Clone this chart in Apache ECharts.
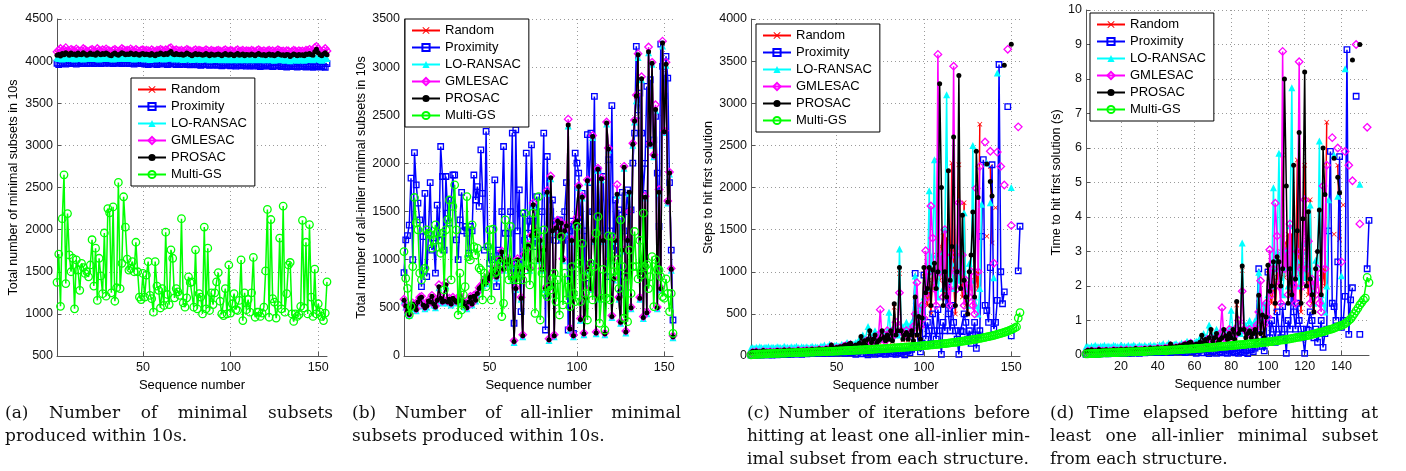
<!DOCTYPE html>
<html><head><meta charset="utf-8">
<script src="https://cdn.jsdelivr.net/npm/echarts@6/dist/echarts.min.js"></script>
<style>html,body{margin:0;padding:0;background:#fff}#c{width:1406px;height:471px}</style>
</head><body><div id="c"></div>
<script>
// ---------- Panel (a): total number of minimal subsets in 10s ----------
const aRandom = [
4095,4100,4090,4105,4095,4110,4100,4090,4105,4095,
4100,4090,4105,4095,4100,4110,4095,4090,4100,4105,
4095,4100,4090,4105,4100,4095,4110,4100,4090,4095,
4105,4100,4095,4090,4100,4105,4095,4100,4110,4095,
4100,4090,4105,4095,4100,4095,4105,4090,4100,4095,
4090,4100,4095,4085,4100,4095,4090,4100,4095,4105,
4100,4090,4095,4100,4110,4120,4100,4090,4095,4100,
4090,4095,4085,4095,4100,4090,4095,4085,4090,4100,
4090,4095,4085,4090,4095,4100,4090,4080,4095,4090,
4085,4090,4095,4085,4080,4090,4095,4085,4080,4090,
4085,4080,4090,4095,4080,4085,4090,4080,4085,4090,
4080,4090,4085,4080,4085,4095,4085,4080,4090,4080,
4085,4090,4080,4085,4075,4085,4095,4090,4080,4085,
4075,4090,4085,4110,4080,4090,4085,4075,4090,4080,
4085,4075,4090,4085,4100,4085,4080,4120,4140,4110,
4085,4075,4090,4110,4085];
const aProximity = [
3975,3960,3980,3970,3985,3965,3975,3980,3970,3985,
3975,3965,3980,3990,3970,3975,3985,3970,3980,3975,
3985,3970,3975,3990,3980,3970,3985,3975,3980,3990,
3975,3985,3970,3980,3975,3990,3980,3970,3985,3975,
3980,3970,3985,3975,3965,3980,3975,3985,3970,3980,
3965,3975,3960,3980,3970,3965,3975,3960,3970,3980,
3965,3975,3970,3960,3975,3985,3965,3970,3960,3975,
3960,3970,3965,3975,3960,3970,3955,3965,3975,3960,
3955,3965,3950,3960,3970,3955,3965,3950,3960,3955,
3965,3950,3960,3955,3945,3960,3950,3965,3955,3945,
3960,3950,3940,3955,3960,3945,3950,3960,3940,3955,
3945,3955,3940,3950,3960,3945,3935,3950,3945,3955,
3940,3950,3945,3935,3950,3940,3955,3945,3935,3950,
3940,3930,3945,3950,3935,3945,3940,3930,3945,3935,
3940,3950,3930,3945,3935,3940,3925,3945,3935,3940,
3930,3945,3935,3925,3970];
const aLoRansac = [
4040,4030,4035,4025,4040,4030,4035,4045,4030,4035,
4025,4035,4040,4030,4035,4025,4040,4035,4030,4040,
4035,4030,4045,4035,4025,4035,4040,4030,4035,4045,
4030,4035,4025,4040,4035,4030,4040,4035,4045,4030,
4035,4040,4030,4035,4025,4035,4030,4040,4035,4030,
4025,4035,4030,4020,4035,4030,4025,4035,4030,4040,
4035,4025,4030,4035,4045,4050,4035,4025,4030,4035,
4025,4030,4020,4030,4035,4025,4030,4020,4025,4035,
4025,4030,4020,4025,4030,4035,4025,4015,4030,4025,
4020,4025,4030,4020,4015,4025,4030,4020,4015,4025,
4020,4015,4025,4030,4015,4020,4025,4015,4020,4025,
4015,4025,4020,4015,4020,4030,4020,4015,4025,4015,
4020,4025,4015,4020,4010,4020,4030,4025,4015,4020,
4010,4025,4020,4005,4015,4025,4020,4010,4025,4015,
4020,4010,4025,4020,4030,4020,4015,4035,4045,4030,
4020,4010,4025,4045,4030];
const aGmlesac = [
4110,4130,4150,4120,4135,4160,4125,4115,4140,4130,
4120,4145,4130,4115,4125,4150,4135,4120,4110,4130,
4140,4125,4115,4150,4130,4120,4135,4125,4145,4130,
4120,4110,4130,4140,4125,4115,4130,4150,4135,4120,
4130,4125,4145,4130,4120,4140,4125,4115,4130,4135,
4120,4130,4125,4115,4135,4120,4110,4130,4125,4140,
4130,4120,4135,4125,4150,4160,4130,4120,4135,4125,
4120,4130,4115,4125,4140,4130,4120,4110,4125,4135,
4120,4130,4125,4115,4120,4135,4125,4110,4130,4120,
4115,4125,4130,4120,4110,4125,4135,4120,4115,4130,
4120,4110,4125,4135,4115,4120,4130,4110,4125,4120,
4115,4130,4120,4110,4125,4135,4120,4115,4125,4110,
4120,4130,4115,4125,4110,4120,4135,4125,4115,4120,
4110,4125,4120,4100,4115,4130,4120,4110,4125,4115,
4120,4110,4130,4125,4140,4120,4115,4160,4175,4150,
4120,4110,4130,4150,4120];
const aProsac = [
4070,4080,4060,4090,4075,4100,4085,4070,4095,4080,
4085,4070,4095,4080,4075,4100,4085,4070,4080,4095,
4080,4085,4070,4100,4085,4075,4090,4080,4095,4085,
4070,4065,4085,4095,4080,4070,4085,4100,4090,4075,
4085,4080,4095,4085,4075,4090,4080,4070,4085,4090,
4075,4085,4080,4070,4090,4075,4065,4085,4080,4095,
4085,4075,4090,4080,4100,4115,4085,4075,4090,4080,
4075,4085,4070,4080,4095,4085,4075,4065,4080,4090,
4075,4085,4080,4070,4075,4090,4080,4065,4085,4075,
4070,4080,4085,4075,4065,4080,4090,4075,4070,4085,
4075,4065,4080,4090,4070,4075,4085,4065,4080,4075,
4070,4085,4075,4065,4080,4090,4075,4070,4080,4065,
4075,4085,4070,4080,4065,4075,4090,4080,4070,4075,
4065,4080,4075,4055,4070,4085,4075,4065,4080,4070,
4075,4065,4085,4080,4090,4075,4070,4110,4140,4100,
4075,4065,4085,4100,4075];
const aMultiGS = [
1375,1710,1090,2130,2650,1360,2190,1700,1500,1660,
1060,1640,1520,1280,1600,1550,1480,1500,1440,1580,
1880,1330,1780,1160,1660,1450,1240,1960,1210,2250,
2200,1250,2270,1150,1310,2560,1300,1600,2390,2030,
1650,1520,1540,1620,1500,1850,1500,1200,1170,1480,
1200,1460,1620,1220,1180,1020,1620,1330,1280,1070,
1300,1100,1970,1230,1110,1760,1660,1190,1300,1260,
1220,2130,1130,1080,1190,1440,1370,1380,1080,1760,
1060,1240,1200,1000,2030,1060,1780,1040,1250,1110,
1250,1380,1490,1150,1000,980,1300,1000,1580,1010,
1120,1240,1050,1040,1160,1640,920,1250,1050,1170,
1020,1250,1670,960,1020,1020,970,1010,1080,1510,
2240,960,2120,1180,1140,950,1100,1900,1060,2280,
1020,1240,1580,1610,1000,910,1000,970,990,1090,
2110,1070,1850,1000,2060,1200,970,1530,1000,1120,
1020,970,920,1010,1380];

// ---------- Panel (b): all-inlier minimal subsets in 10s ----------
const bRandom = [
575,515,465,425,495,535,515,475,555,595,
605,525,495,515,565,555,615,535,505,575,
715,595,555,565,735,555,585,535,595,575,
555,565,615,575,555,515,495,555,605,535,
615,575,645,695,715,735,775,755,815,795,
845,875,895,815,855,995,1075,895,975,955,
995,945,795,145,695,995,895,595,205,1045,
1095,1145,895,1245,1565,1295,1245,995,1195,895,
1095,695,1695,165,1845,1295,205,1325,1395,1245,
1375,995,1295,1345,2395,275,1195,205,1375,1395,
1755,375,1645,225,595,1815,895,695,2275,1195,
235,1935,595,1835,1195,225,2415,2145,995,405,
795,1195,1675,595,345,1095,1955,245,1195,1695,
495,2195,2435,2695,3125,595,2875,395,1645,445,
3155,2195,3035,2075,2555,495,1695,695,3245,2325,
3025,1595,1895,895,195];
const bProximity = [
866,1206,1250,1360,1847,1000,2113,1777,1587,1413,
720,1240,1690,825,1275,1800,1100,1170,860,1566,
1200,2176,1864,1100,1864,1483,1380,1620,1880,1880,
1206,1000,1414,1700,1300,1345,1275,1067,1345,1300,
1880,1620,1760,1553,2141,1690,1100,2332,1136,963,
1032,1000,1830,720,1100,929,1500,2176,1275,1000,
1275,1500,2315,340,2350,1300,1726,460,1483,1200,
2107,1275,1400,2193,1400,1136,1656,1300,1067,1500,
2315,270,2072,1206,1500,1620,1300,1200,1400,1413,
1300,1200,1500,1800,270,1300,1400,236,2107,2003,
1900,1400,1690,1300,755,2300,1800,2315,1500,2696,
963,1934,1500,1300,1864,1300,825,2038,1300,2600,
1100,1620,1400,1518,651,1700,1300,1500,1726,1200,
1518,2003,2315,3216,2500,2730,2315,1690,2000,2800,
2200,2869,2500,2245,2488,1900,1345,3240,3008,2700,
3112,2886,1800,1100,374];
const bLoRansac = [
570,510,460,420,490,530,510,470,550,590,
600,520,490,510,560,550,610,530,500,570,
710,590,550,560,730,550,580,530,590,570,
550,560,610,570,550,510,490,550,600,530,
610,570,640,690,710,730,770,750,810,790,
840,870,890,810,850,990,1070,890,970,950,
990,940,790,140,690,990,890,590,200,1040,
1090,1140,890,1240,1560,1290,1240,990,1190,890,
1090,690,1690,160,1840,1290,200,1320,1390,1240,
1370,990,1290,1340,2390,270,1190,200,1370,1390,
1750,370,1640,220,590,1810,890,690,2270,1190,
230,1930,590,1830,1190,220,2410,2140,990,400,
790,1190,1670,590,340,1090,1950,240,1190,1690,
490,2190,2430,2650,3100,590,2870,390,1640,440,
3150,2190,3030,2070,2550,490,1690,690,3220,2320,
3020,1590,1890,890,190];
const bGmlesac = [
590,530,480,440,510,550,530,490,570,610,
620,540,510,530,580,570,630,550,520,590,
740,610,570,580,760,570,600,550,610,590,
570,580,630,590,570,530,510,570,620,550,
630,590,660,710,730,750,790,770,830,810,
860,890,910,830,870,1010,1090,910,990,970,
1010,960,810,160,710,1010,910,610,220,1060,
1110,1160,910,1260,1590,1310,1260,1010,1210,910,
1110,710,1720,180,1870,1310,220,1340,1410,1260,
1390,1010,1310,1360,2460,290,1210,220,1390,1440,
1770,390,1660,240,610,1830,910,710,2290,1210,
250,1950,610,1850,1210,240,2430,2160,1010,420,
810,1210,1780,610,360,1110,1970,260,1210,1500,
510,2210,2450,2710,3140,610,2900,410,1660,460,
3210,2210,3050,2090,2610,510,1730,710,3270,2340,
3050,1610,1910,910,210];
const bProsac = [
580,520,470,430,500,540,520,480,560,600,
610,530,500,520,570,560,620,540,510,580,
720,600,560,570,740,560,590,540,600,580,
560,570,620,580,560,520,500,560,610,540,
620,580,650,700,720,740,780,760,820,800,
850,880,900,820,860,1000,1080,900,980,960,
1000,950,800,150,700,1000,900,600,210,1050,
1100,1150,900,1250,1570,1300,1250,1000,1200,900,
1100,700,1700,170,1850,1300,210,1330,1400,1250,
1380,1000,1300,1350,2400,280,1200,210,1380,1400,
1760,380,1650,230,600,1820,900,700,2280,1200,
240,1940,600,1840,1200,230,2420,2150,1000,410,
800,1200,1680,600,350,1100,1960,250,1200,1700,
500,2200,2440,2700,3130,600,2880,400,1650,450,
3160,2200,3040,2080,2560,500,1700,700,3250,2330,
3030,1600,1900,900,200];
const bMultiGS = [
1085,807,703,426,513,929,1646,1386,1310,860,
790,877,911,1310,1275,1258,1120,1206,1362,1282,
1130,1067,1275,686,1310,1414,1620,790,1553,1777,
1310,426,860,478,634,720,1656,1032,998,1362,
1136,1050,1120,915,894,582,860,720,1136,1310,
582,1317,860,877,998,963,409,547,1414,929,
790,1345,825,790,963,790,877,963,790,1483,
894,1136,738,929,1483,443,1275,1656,374,860,
1310,651,617,720,686,807,860,565,790,426,
1240,530,860,582,790,513,929,651,565,1345,
963,565,1170,825,651,374,860,963,582,929,
1275,1448,340,600,900,270,600,1247,582,1240,
877,825,1000,700,1414,929,392,825,357,1100,
650,929,1293,929,800,1200,842,1483,929,950,
700,825,1032,513,1000,900,894,825,617,600,
800,650,461,650,236];

// ---------- Panel (c): steps to hit first solution ----------
const cRandom = [
35,50,30,55,40,45,35,60,40,50,
45,55,40,50,45,60,50,55,45,65,
50,55,65,45,60,55,50,70,55,60,
65,55,70,60,65,75,60,70,65,80,
70,75,65,85,75,80,120,90,75,95,
85,100,95,115,125,105,130,140,115,105,
125,115,140,200,130,170,115,190,280,150,
190,240,145,170,190,280,210,170,240,190,
280,170,580,240,280,980,280,190,240,270,
190,240,280,170,650,240,440,190,420,980,
700,600,900,500,1000,800,1200,2320,900,1300,
1470,700,1400,600,800,2290,900,500,1200,2270,
1000,700,1820,600,500,800,900,700,600,1000,
800,2750,null,null,null,1420,null,2250,1340,null,
1760,null,null,null,null,null,null,null,null,null,
null,null,null,null,null];
const cProximity = [
10,15,8,20,12,18,10,25,14,20,
15,22,12,18,25,15,20,28,18,22,
25,18,30,20,28,22,35,25,30,20,
28,35,25,30,38,28,32,40,30,35,
40,30,38,45,35,42,30,48,40,35,
45,38,50,42,30,48,55,40,35,50,
20,45,55,30,25,60,40,15,50,35,
45,20,60,40,25,55,30,20,45,60,
35,25,50,20,40,60,30,45,15,55,
60,40,80,100,980,300,100,50,150,960,
200,400,300,150,500,300,200,550,300,20,
400,300,850,500,300,600,400,300,200,20,
300,290,500,400,200,300,150,250,400,90,
250,300,1420,2330,600,540,400,1050,2270,320,
400,660,3460,1000,620,760,null,2960,null,240,
null,null,null,1010,1540];
const cLoRansac = [
95,100,90,105,95,110,100,95,105,100,
110,95,105,100,95,110,105,100,95,115,
100,105,95,110,100,105,115,100,95,110,
105,100,110,95,105,115,100,110,105,100,
120,110,130,105,115,140,120,110,125,130,
115,120,140,125,130,160,135,150,140,145,
160,150,200,170,250,160,180,350,200,230,
200,300,220,250,280,200,260,230,300,520,
260,240,350,300,250,1270,280,350,300,400,
350,300,400,350,950,500,400,600,450,700,
900,800,1960,1000,1200,2330,900,700,1000,1200,
800,1500,3100,900,1200,1100,800,1000,1300,900,
1200,1000,1700,800,600,1100,900,2500,700,600,
500,800,1800,null,null,2290,null,1820,null,930,
null,3360,null,null,null,null,null,null,null,2000,
null,null,null,null,null];
const cGmlesac = [
30,45,25,50,35,40,30,55,35,45,
40,50,35,45,40,55,45,50,40,60,
45,50,60,40,55,50,45,65,50,55,
60,50,65,55,60,70,55,65,60,75,
65,70,60,80,70,75,110,85,70,90,
80,95,90,110,120,100,125,135,110,100,
80,100,120,90,150,110,180,130,200,150,
180,150,200,250,550,200,260,180,300,250,
220,300,250,400,350,750,300,280,250,300,
250,280,300,350,500,870,400,350,600,450,
1250,700,1000,1780,1400,800,600,3580,1000,1200,
700,1500,900,800,600,1200,3440,1000,800,1820,
1000,1200,600,900,800,700,1000,600,500,1990,
1000,2250,null,null,2540,null,null,2430,null,1100,
null,2420,null,2250,null,2030,null,3640,null,1550,
null,null,null,2720,null];
const cProsac = [
40,55,35,60,45,50,40,65,45,55,
50,60,45,55,50,65,55,60,50,70,
55,60,70,50,65,60,55,75,60,65,
70,60,75,65,70,80,65,75,70,85,
75,80,70,90,80,85,130,95,80,100,
90,110,100,120,130,110,140,150,120,110,
130,120,150,230,140,180,120,200,300,160,
200,250,150,180,200,300,220,180,250,200,
300,180,620,250,300,1050,300,200,250,280,
200,250,300,180,700,250,470,200,450,1050,
750,800,1050,600,1020,1100,800,1000,3230,2000,
600,1000,700,2200,900,1300,2600,600,1000,3330,
800,1670,900,700,500,1000,1200,1710,700,2430,
1880,null,null,null,null,2280,null,2070,1900,null,
null,null,null,null,null,3450,null,null,null,3700,
null,null,null,null,null];
const cMultiGS = [
14,16,18,19,21,22,23,24,25,26,
27,28,29,30,31,31,32,33,34,35,
35,36,37,38,38,39,40,41,41,42,
43,44,44,45,46,47,47,48,49,50,
50,51,52,53,54,54,55,56,57,58,
59,60,61,62,63,64,65,66,67,68,
69,70,71,72,73,74,75,77,78,79,
80,81,83,84,85,86,88,89,90,92,
93,94,96,97,98,100,101,103,104,106,
107,109,110,112,114,115,117,119,121,123,
125,127,129,131,133,135,137,139,141,144,
146,148,151,153,156,158,161,163,166,169,
172,175,178,181,184,187,190,194,197,201,
205,209,213,217,221,226,230,235,240,245,
250,256,262,268,274,281,288,296,304,313,
322,333,345,450,515];

// ---------- Panel (d): time to hit first solution (s) ----------
const dRandom = [
.09,.12,.08,.14,.10,.11,.09,.15,.10,.12,
.11,.14,.10,.12,.11,.15,.12,.14,.11,.16,
.12,.14,.16,.11,.15,.14,.12,.17,.14,.15,
.16,.14,.17,.15,.16,.19,.15,.17,.16,.20,
.17,.19,.16,.21,.19,.20,.30,.22,.19,.24,
.21,.25,.24,.29,.31,.26,.32,.35,.29,.26,
.31,.29,.35,.50,.32,.42,.29,.47,.70,.37,
.47,.60,.36,.42,.47,.70,.52,.42,.60,.47,
.70,.42,1.45,.60,.70,2.45,.70,.47,.60,.67,
.47,.60,.70,.42,1.62,.60,1.1,.47,1.05,2.45,
1.75,1.5,2.25,1.25,2.5,2.0,3.0,5.8,2.25,3.25,
3.5,1.75,3.5,1.5,2.0,5.65,2.25,1.25,3.0,5.5,
2.5,1.75,4.5,1.5,1.25,2.0,2.25,1.75,1.5,2.5,
2.0,6.75,null,null,null,3.5,null,5.5,3.35,null,
4.35,null,null,null,null,null,null,null,null,null,
null,null,null,null,null];
const dProximity = [
.02,.04,.02,.05,.03,.04,.02,.06,.03,.05,
.04,.05,.03,.04,.06,.04,.05,.07,.04,.05,
.06,.04,.07,.05,.07,.05,.09,.06,.07,.05,
.07,.09,.06,.07,.09,.07,.08,.10,.07,.09,
.10,.07,.09,.11,.09,.10,.07,.12,.10,.09,
.11,.09,.12,.10,.07,.12,.14,.10,.09,.12,
.05,.11,.14,.07,.06,.15,.10,.04,.12,.09,
.11,.05,.15,.10,.06,.14,.07,.05,.11,.15,
.09,.06,.12,.05,.10,.15,.07,.11,.04,.14,
.15,.10,.20,.25,2.5,.75,.25,.12,.37,2.4,
.5,1.0,.75,.37,1.25,.75,.5,1.4,.75,.05,
1.0,.75,2.1,1.25,.75,1.5,1.0,.75,.5,.05,
.75,.72,1.25,1.0,.5,.75,.37,.62,1.0,.22,
.62,.75,3.6,5.9,1.5,1.4,1.0,2.7,5.75,.8,
1.0,1.7,8.85,.6,1.6,1.95,null,7.5,null,.6,
null,null,null,2.5,3.9];
const dLoRansac = [
.24,.25,.22,.26,.24,.28,.25,.24,.26,.25,
.28,.24,.26,.25,.24,.28,.26,.25,.24,.29,
.25,.26,.24,.28,.25,.26,.29,.25,.24,.28,
.26,.25,.28,.24,.26,.29,.25,.28,.26,.25,
.30,.28,.33,.26,.29,.35,.30,.28,.31,.33,
.29,.30,.35,.31,.33,.40,.34,.37,.35,.36,
.40,.37,.50,.42,.62,.40,.45,.87,.50,.57,
.50,.75,.55,.62,.70,.50,.65,.57,.75,1.3,
.65,.60,.87,.75,.62,3.25,.70,.87,.75,1.0,
.87,.75,1.0,.87,2.4,1.25,1.0,1.5,1.1,1.75,
2.25,2.0,4.85,2.5,3.0,5.85,2.25,1.75,2.5,3.0,
2.0,3.75,7.75,2.25,3.0,2.75,2.0,2.5,3.25,2.25,
3.0,2.5,4.35,2.0,1.5,2.75,2.25,6.2,1.75,1.5,
1.25,2.0,4.5,null,null,5.8,null,4.6,null,2.3,
null,8.3,null,null,null,null,null,null,null,4.95,
null,null,null,null,null];
const dGmlesac = [
.07,.11,.06,.12,.09,.10,.07,.14,.09,.11,
.10,.12,.09,.11,.10,.14,.11,.12,.10,.15,
.11,.12,.15,.10,.14,.12,.11,.16,.12,.14,
.15,.12,.16,.14,.15,.17,.14,.16,.15,.19,
.16,.17,.15,.20,.17,.19,.27,.21,.17,.22,
.20,.24,.22,.27,.30,.25,.31,.34,.27,.25,
.20,.25,.30,.22,.37,.27,.45,.32,.50,.37,
.45,.37,.50,.62,1.37,.50,.65,.45,.74,.62,
.55,.74,.62,1.0,.87,1.85,.74,.70,.62,.74,
.62,.70,.74,.87,1.25,2.15,1.0,.87,1.5,1.1,
3.05,1.75,2.5,4.4,3.45,2.0,1.5,8.8,2.5,3.0,
1.75,3.8,2.2,2.0,1.5,3.0,8.5,2.5,2.0,4.5,
2.5,3.3,1.5,2.2,2.0,1.75,2.5,1.5,1.25,4.9,
2.5,5.5,null,null,6.3,null,null,6.0,null,2.7,
null,5.9,null,5.5,null,5.05,null,9.0,null,3.8,
null,null,null,6.6,null];
const dProsac = [
.10,.14,.09,.15,.11,.12,.10,.16,.11,.14,
.12,.15,.11,.14,.12,.16,.14,.15,.12,.17,
.14,.15,.17,.12,.16,.15,.14,.19,.15,.16,
.17,.15,.19,.16,.17,.20,.16,.19,.17,.21,
.19,.20,.17,.22,.20,.21,.32,.24,.20,.25,
.22,.27,.25,.30,.32,.27,.35,.37,.30,.27,
.32,.30,.37,.57,.35,.45,.30,.50,.74,.40,
.50,.62,.37,.45,.50,.74,.55,.45,.62,.50,
.74,.45,1.55,.62,.74,2.58,.74,.50,.62,.70,
.50,.62,.74,.45,1.73,.62,1.16,.50,1.10,2.60,
1.85,2.0,2.7,1.5,2.85,2.7,2.0,2.5,8.0,4.9,
1.5,2.5,1.75,5.5,2.2,3.6,6.45,1.5,3.95,8.2,
2.0,4.15,2.2,1.75,1.25,2.5,3.0,4.2,1.75,6.0,
4.65,null,null,null,null,5.7,null,5.15,4.7,null,
null,null,null,null,null,8.55,null,null,null,9.0,
null,null,null,null,null];
const dMultiGS = [
.03,.03,.04,.04,.04,.05,.05,.05,.05,.06,
.06,.06,.06,.07,.07,.07,.07,.07,.08,.08,
.08,.08,.08,.09,.09,.09,.09,.09,.10,.10,
.10,.10,.10,.11,.11,.11,.11,.12,.12,.12,
.12,.13,.13,.13,.13,.14,.14,.14,.15,.15,
.15,.16,.16,.16,.17,.17,.17,.18,.18,.18,
.19,.19,.19,.20,.20,.21,.21,.21,.22,.22,
.23,.23,.24,.24,.25,.25,.26,.26,.27,.27,
.28,.28,.29,.29,.30,.30,.31,.31,.32,.32,
.33,.33,.34,.34,.35,.36,.36,.37,.37,.38,
.39,.39,.40,.41,.41,.42,.43,.44,.44,.45,
.46,.47,.48,.49,.50,.51,.52,.53,.54,.55,
.56,.57,.58,.60,.61,.62,.64,.65,.66,.68,
.69,.71,.73,.74,.76,.78,.80,.82,.84,.86,
.88,.91,.95,1.0,1.05,1.12,1.2,1.28,1.36,1.45,
1.52,1.6,1.65,2.25,2.1];

// ---------- labels ----------
const seriesNames = ['Random','Proximity','LO-RANSAC','GMLESAC','PROSAC','Multi-GS'];
const xTicksABC = [50,100,150];
const xTicksD = [20,40,60,80,100,120,140];
const xTitle = 'Sequence number';
const yTitles = ['Total number of minimal subsets in 10s','Total number of all-inlier minimal subsets in 10s','Steps to hit first solution','Time to hit first solution (s)'];
const captions = [
  ['(a) Number of minimal subsets','produced within 10s.'],
  ['(b) Number of all-inlier minimal','subsets produced within 10s.'],
  ['(c) Number of iterations before','hitting at least one all-inlier min-','imal subset from each structure.'],
  ['(d) Time elapsed before hitting at','least one all-inlier minimal subset','from each structure.']
];

// ---------- styling ----------
const SANS = '"Liberation Sans", Arial, sans-serif';
const XPATH = 'path://M0,1L1,0L5,4L9,0L10,1L6,5L10,9L9,10L5,6L1,10L0,9L4,5Z';
const sty = [
  {c:'#ff0000', sym:XPATH, size:5, fill:true},
  {c:'#0000ff', sym:'rect', size:5.5, fill:false},
  {c:'#00ffff', sym:'triangle', size:7, fill:true},
  {c:'#ff00ff', sym:'diamond', size:7.5, fill:false},
  {c:'#000000', sym:'circle', size:5, fill:true},
  {c:'#00ff00', sym:'circle', size:7.5, fill:false}
];
const panels = [
  {data:[aRandom,aProximity,aLoRansac,aGmlesac,aProsac,aMultiGS], grid:{left:57,top:19,width:270,height:337}, y:{min:500,max:4500,interval:500}, xt:xTicksABC, yGap:37, legend:{left:131,top:78}},
  {data:[bRandom,bProximity,bLoRansac,bGmlesac,bProsac,bMultiGS], grid:{left:404,top:19,width:269,height:337}, y:{min:0,max:3500,interval:500}, xt:xTicksABC, yGap:36, legend:{left:405,top:19}},
  {data:[cRandom,cProximity,cLoRansac,cGmlesac,cProsac,cMultiGS], grid:{left:751,top:19,width:269,height:337}, y:{min:0,max:4000,interval:500}, xt:xTicksABC, yGap:36, legend:{left:756,top:24}},
  {data:[dRandom,dProximity,dLoRansac,dGmlesac,dProsac,dMultiGS], grid:{left:1086,top:10,width:283,height:345}, y:{min:0,max:10,interval:1}, xt:xTicksD, yGap:23, legend:{left:1090,top:13}}
];

const grids=[], xAxes=[], yAxes=[], series=[], legends=[];
panels.forEach((p,pi)=>{
  grids.push(Object.assign({outerBoundsMode:'none', containLabel:false}, p.grid));
  xAxes.push({
    gridIndex:pi, type:'value', min:1, max:155,
    name:xTitle, nameLocation:'middle', nameGap:18,
    nameTextStyle:{fontSize:13, fontFamily:SANS, color:'#000'},
    axisLine:{show:true, lineStyle:{color:'#555', width:1}},
    axisTick:{show:true, inside:true, length:4, customValues:p.xt, lineStyle:{color:'#555'}},
    axisLabel:{customValues:p.xt, fontSize:12.5, fontFamily:SANS, color:'#111', margin:5, formatter:v=>String(v)},
    splitLine:{show:true, lineStyle:{color:'#9a9a9a', width:1, type:[1,3]}}
  });
  yAxes.push({
    gridIndex:pi, type:'value', min:p.y.min, max:p.y.max, interval:p.y.interval,
    name:yTitles[pi], nameLocation:'middle', nameGap:p.yGap,
    nameTextStyle:{fontSize:12.5, fontFamily:SANS, color:'#000'},
    axisLine:{show:true, lineStyle:{color:'#555', width:1}},
    axisTick:{show:true, inside:true, length:4, lineStyle:{color:'#555'}},
    axisLabel:{fontSize:12.5, fontFamily:SANS, color:'#111', margin:4, formatter:v=>String(v)},
    splitLine:{show:true, lineStyle:{color:'#9a9a9a', width:1, type:[1,3]}}
  });
  p.data.forEach((vals,si)=>{
    const s = sty[si];
    series.push({
      type:'line', name:seriesNames[si], xAxisIndex:pi, yAxisIndex:pi,
      data: vals.map((v,i)=>[i+1, v]),
      symbol:s.sym, symbolSize:s.size, showSymbol:true, showAllSymbol:true,
      connectNulls:false, animation:false, silent:true,
      lineStyle:{color:s.c, width:1.5},
      itemStyle: s.fill ? {color:s.c, borderWidth:0} : {color:'rgba(255,255,255,0)', borderColor:s.c, borderWidth:1.3},
      z: 2+si
    });
  });
  legends.push({
    left:p.legend.left, top:p.legend.top, orient:'vertical',
    data:seriesNames, selectedMode:false,
    backgroundColor:'#fff', borderColor:'#000', borderWidth:1,
    padding:[4,8,4,6], itemWidth:28, itemHeight:9, itemGap:2,
    textStyle:{fontSize:13, fontFamily:SANS, color:'#000', lineHeight:15}
  });
});

// ---------- captions (justified, serif) ----------
const capX = [[5,333],[352,681],[747,1030],[1050,1378]];
const capY = [414,437,460];
const CAPFONT = '17px "DejaVu Serif"';
const mctx = document.createElement('canvas').getContext('2d');
mctx.font = CAPFONT;
const graphics = [];
captions.forEach((lines,ci)=>{
  const [x0,x1] = capX[ci];
  lines.forEach((line,li)=>{
    const last = li === lines.length-1;
    const words = line.split(' ');
    const ws = words.map(w=>mctx.measureText(w).width);
    const sum = ws.reduce((a,b)=>a+b,0);
    let gap = mctx.measureText(' ').width;
    if(!last && words.length>1) gap = (x1-x0-sum)/(words.length-1);
    let x = x0;
    words.forEach((w,wi)=>{
      graphics.push({type:'text', x:x, y:capY[li], silent:true,
        style:{text:w, font:CAPFONT, fill:'#111', verticalAlign:'middle', align:'left'}});
      x += ws[wi] + gap;
    });
  });
});

const chart = echarts.init(document.getElementById('c'), null, {renderer:'canvas'});
chart.setOption({
  animation:false, backgroundColor:'#fff',
  grid:grids, xAxis:xAxes, yAxis:yAxes, series:series, legend:legends, graphic:graphics
});
</script></body></html>
